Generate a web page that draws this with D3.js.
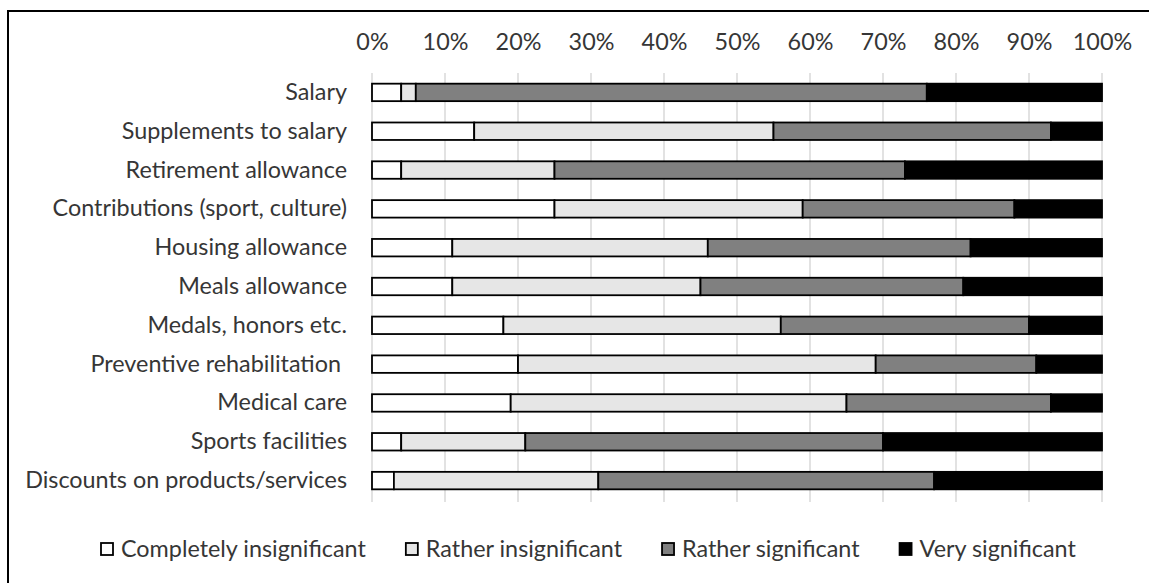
<!DOCTYPE html>
<html>
<head>
<meta charset="utf-8">
<script src="https://cdn.jsdelivr.net/npm/d3@7"></script>
<style>
  html, body { margin: 0; padding: 0; background: #fff; }
  svg { display: block; }
  text { font-family: Lato, "Open Sans", sans-serif; fill: #363636; white-space: pre; }
</style>
</head>
<body>
<svg id="chart" width="1149" height="583"></svg>
<script>
const categories = [
  "Salary",
  "Supplements to salary",
  "Retirement allowance",
  "Contributions (sport, culture)",
  "Housing allowance",
  "Meals allowance",
  "Medals, honors etc.",
  "Preventive rehabilitation ",
  "Medical care",
  "Sports facilities",
  "Discounts on products/services"
];
const seriesNames = ["Completely insignificant", "Rather insignificant", "Rather significant", "Very significant"];
const completelyInsignificant = [4, 14, 4, 25, 11, 11, 18, 20, 19, 4, 3];
const ratherInsignificant     = [2, 41, 21, 34, 35, 34, 38, 49, 46, 17, 28];
const ratherSignificant       = [70, 38, 48, 29, 36, 36, 34, 22, 28, 49, 46];
const verySignificant         = [24, 7, 27, 12, 18, 19, 10, 9, 7, 30, 23];
const tickValues = [0, 0.1, 0.2, 0.3, 0.4, 0.5, 0.6, 0.7, 0.8, 0.9, 1.0];
const colors = ["#ffffff", "#e6e6e6", "#808080", "#000000"];

const rows = categories.map((c, i) => ({
  category: c,
  s0: completelyInsignificant[i],
  s1: ratherInsignificant[i],
  s2: ratherSignificant[i],
  s3: verySignificant[i]
}));
rows.forEach(r => { r.total = r.s0 + r.s1 + r.s2 + r.s3; });
const keys = ["s0", "s1", "s2", "s3"];
const stacked = d3.stack().keys(keys)
  .value((d, k) => d[k] / d.total)(rows);

const svg = d3.select("#chart");

// font size fit: longest label should be ~322px wide
const probe = svg.append("text").attr("font-size", 20).text("Discounts on products/services");
const w20 = probe.node().getComputedTextLength();
probe.remove();
const fs = Math.max(16, Math.min(26, 20 * 322 / w20));

// frame (top and left border)
svg.append("line").attr("x1", 8).attr("x2", 1149).attr("y1", 11).attr("y2", 11)
  .attr("stroke", "#000").attr("stroke-width", 2);
svg.append("line").attr("x1", 8).attr("x2", 8).attr("y1", 10).attr("y2", 583)
  .attr("stroke", "#000").attr("stroke-width", 2);

const x = d3.scaleLinear().domain([0, 1]).range([372, 1102]);
const y = d3.scaleBand().domain(categories).range([73, 500])
  .paddingInner(0.55).paddingOuter(0.275);

// gridlines
svg.append("g").selectAll("line").data(tickValues).join("line")
  .attr("x1", d => x(d)).attr("x2", d => x(d))
  .attr("y1", 73).attr("y2", 502)
  .attr("stroke", "#d9d9d9").attr("stroke-width", 1.5);

// top axis labels
const xAxis = d3.axisTop(x).tickValues(tickValues).tickSize(0).tickPadding(0)
  .tickFormat(d3.format(".0%"));
const gx = svg.append("g").attr("transform", "translate(0,50)").call(xAxis);
gx.select(".domain").remove();
gx.selectAll("text").attr("font-size", fs).attr("font-family", "Lato, 'Open Sans', sans-serif")
  .attr("fill", "#363636").attr("dy", 0);

// left axis labels
const yAxis = d3.axisLeft(y).tickSize(0).tickPadding(0);
const gy = svg.append("g").attr("transform", "translate(347,0)").call(yAxis);
gy.select(".domain").remove();
gy.selectAll("text").attr("font-size", fs).attr("font-family", "Lato, 'Open Sans', sans-serif")
  .attr("fill", "#363636").style("white-space", "pre");

// bars
svg.append("g").selectAll("g").data(stacked).join("g")
  .attr("fill", (d, i) => colors[i])
  .selectAll("rect").data(d => d).join("rect")
  .attr("x", d => x(d[0]))
  .attr("width", d => x(d[1]) - x(d[0]))
  .attr("y", d => y(d.data.category))
  .attr("height", y.bandwidth())
  .attr("stroke", "#000").attr("stroke-width", 1.8);

// legend
const legend = svg.append("g").attr("transform", "translate(0,549)");
let lx = 101;
seriesNames.forEach((name, i) => {
  const g = legend.append("g").attr("transform", `translate(${lx},0)`);
  g.append("rect").attr("x", 0).attr("y", -6).attr("width", 12).attr("height", 12)
    .attr("fill", colors[i]).attr("stroke", "#000").attr("stroke-width", 1.8);
  const t = g.append("text").attr("x", 20).attr("y", 0).attr("dy", "0.35em")
    .attr("font-size", fs).text(name);
  const tw = t.node().getComputedTextLength();
  lx += 20 + tw + 40;
});
</script>
</body>
</html>
